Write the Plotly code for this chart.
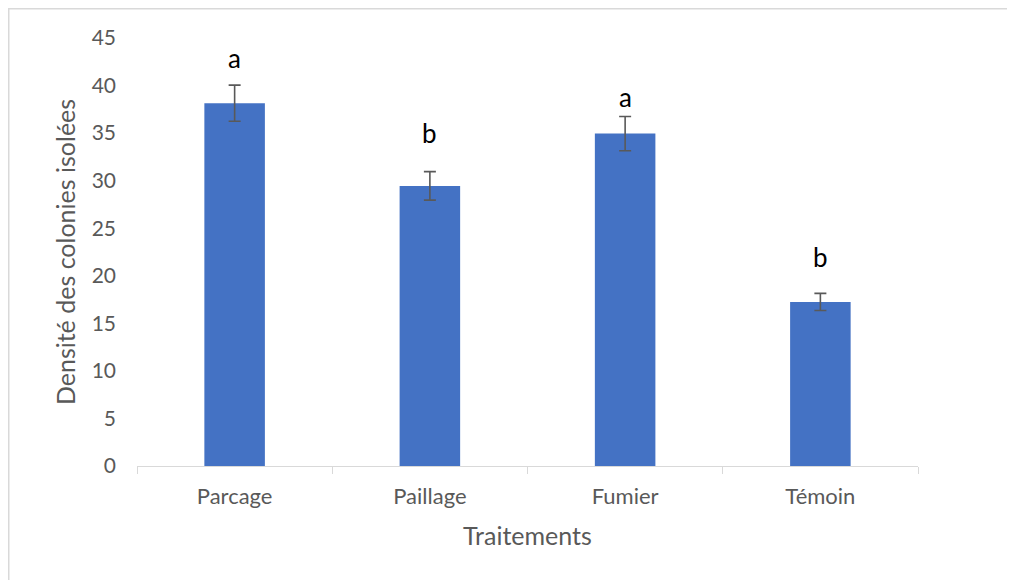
import plotly.graph_objects as go

categories = ["Parcage", "Paillage", "Fumier", "Témoin"]
values = [38.15, 29.45, 34.95, 17.25]
errors = [1.9, 1.5, 1.8, 0.9]
letters = ["a", "b", "a", "b"]
letter_y = [42.9, 35.0, 38.8, 21.95]
y_ticks = [0, 5, 10, 15, 20, 25, 30, 35, 40, 45]

FONT = "Lato, 'Open Sans', sans-serif"
# page has an 8px body margin, so the figure is sized to fill the rest
W, H = 1007, 572
L, R, T, B = 129, 97, 30, 114

fig = go.Figure()
fig.add_trace(go.Bar(
    x=categories, y=values, width=0.31,
    marker=dict(color="#4472C4", line=dict(width=0)),
    error_y=dict(type="data", array=errors, visible=True,
                 color="#595959", thickness=1.6, width=6),
    showlegend=False,
))

for c, t, yy in zip(categories, letters, letter_y):
    fig.add_annotation(x=c, y=yy, text=t, showarrow=False,
                       font=dict(family=FONT, size=26, color="#000000"),
                       xref="x", yref="y")

pw = W - L - R
ph = H - T - B
fig.add_shape(type="rect", xref="paper", yref="paper",
              x0=(0.75 - L) / pw, x1=(1030 - L) / pw,
              y0=(H - B - 600) / ph, y1=(H - B - 0.75) / ph,
              line=dict(color="#d9d9d9", width=1.5), layer="below")

fig.update_layout(
    width=W, height=H,
    margin=dict(l=L, r=R, t=T, b=B, autoexpand=False),
    paper_bgcolor="white", plot_bgcolor="white",
    bargap=0.69,
    font=dict(family=FONT, color="#595959"),
    xaxis=dict(
        title=dict(text="Traitements", font=dict(size=25, color="#595959"), standoff=19),
        showline=True, linecolor="#d9d9d9", linewidth=1.2,
        ticks="outside", tickson="boundaries", ticklen=7, tickcolor="#d9d9d9", tickwidth=1.2,
        tickfont=dict(size=22, color="#595959"),
        ticklabelstandoff=10,
        showgrid=False,
    ),
    yaxis=dict(
        title=dict(text="Densité des colonies isolées", font=dict(size=25, color="#595959"), standoff=8),
        range=[0, 45], tickvals=y_ticks,
        tickfont=dict(size=21, color="#595959"),
        showgrid=False, showline=False, zeroline=False, ticks="",
        ticklabelstandoff=20,
    ),
)

fig.write_html("out.html")
